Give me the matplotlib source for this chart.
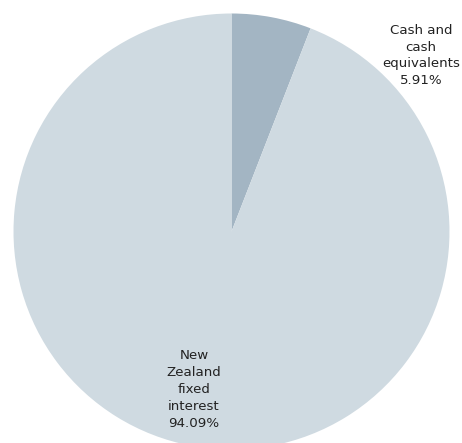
import matplotlib
matplotlib.use("Agg")
import matplotlib.pyplot as plt

categories = ["Cash and\ncash\nequivalents", "New\nZealand\nfixed\ninterest"]
values = [5.91, 94.09]
colors = ["#a3b5c3", "#cfdae1"]

W, H = 462, 443
fig = plt.figure(figsize=(W / 100, H / 100), dpi=100)
ax = fig.add_axes([0, 0, 1, 1])
ax.set_xlim(0, W)
ax.set_ylim(0, H)
ax.axis("off")

ax.pie(values, colors=colors, startangle=90, counterclock=False,
       center=(231.5, H - 231.5), radius=218, frame=True,
       wedgeprops=dict(linewidth=0))
ax.set_xlim(0, W)
ax.set_ylim(0, H)
ax.axis("off")

label_pos = [(421, H - 55.5), (194, H - 389.5)]
for cat, val, (x, y) in zip(categories, values, label_pos):
    ax.text(x, y, f"{cat}\n{val:.2f}%", ha="center", va="center",
            fontsize=9.6, color="#222222", linespacing=1.38,
            family="DejaVu Sans")

fig.savefig("out.png", dpi=100)
